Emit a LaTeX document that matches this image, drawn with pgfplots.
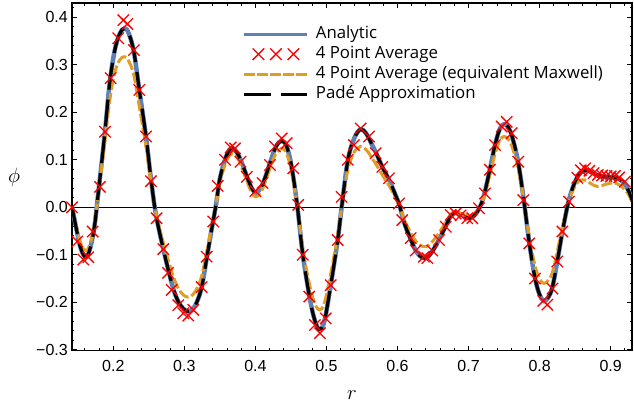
\documentclass[border=0pt]{standalone}
\usepackage{fontspec}
\setmainfont{Open Sans}
\newfontfamily\tickfont{Liberation Sans}
\usepackage{pgfplots}
\pgfplotsset{compat=1.18}
\usepackage{pgfplotstable}

\definecolor{anablue}{HTML}{5E81B5}
\definecolor{maxorange}{HTML}{E19C24}

\pgfplotsset{
  longline legend/.style={legend image code/.code={\draw[##1] (0bp,0bp) -- (63bp,0bp);}},
  threecross legend/.style={legend image code/.code={\draw[##1] plot coordinates {(14bp,0bp) (31.5bp,0bp) (49bp,0bp)};}},
}

% analytic solution (Pade approximation lies on top of it)
\pgfplotstableread{
r phi
0.1420 0.000
0.1480 -0.045
0.1530 -0.080
0.1580 -0.100
0.1615 -0.104
0.1650 -0.098
0.1700 -0.070
0.1740 -0.035
0.1780 0.018
0.1830 0.085
0.1883 0.159
0.1950 0.262
0.2020 0.330
0.2090 0.365
0.2160 0.377
0.2220 0.365
0.2290 0.327
0.2366 0.247
0.2460 0.149
0.2530 0.060
0.2600 -0.015
0.2700 -0.085
0.2780 -0.135
0.2850 -0.174
0.2920 -0.200
0.2990 -0.214
0.3056 -0.219
0.3120 -0.214
0.3180 -0.198
0.3244 -0.168
0.3314 -0.108
0.3380 -0.050
0.3445 0.005
0.3500 0.060
0.3572 0.100
0.3630 0.120
0.3680 0.124
0.3740 0.115
0.3800 0.097
0.3880 0.065
0.3950 0.040
0.4010 0.031
0.4080 0.042
0.4150 0.068
0.4220 0.100
0.4290 0.128
0.4370 0.140
0.4440 0.128
0.4510 0.085
0.4590 0.002
0.4666 -0.098
0.4758 -0.185
0.4830 -0.235
0.4900 -0.257
0.4970 -0.240
0.5060 -0.164
0.5158 -0.069
0.5214 0.000
0.5300 0.098
0.5390 0.145
0.5480 0.164
0.5560 0.155
0.5640 0.132
0.5700 0.114
0.5786 0.085
0.5880 0.058
0.5960 0.030
0.6030 0.003
0.6100 -0.035
0.6185 -0.067
0.6256 -0.091
0.6320 -0.103
0.6396 -0.107
0.6460 -0.099
0.6530 -0.083
0.6600 -0.063
0.6678 -0.040
0.6748 -0.018
0.6818 -0.011
0.6889 -0.015
0.6982 -0.022
0.7060 -0.020
0.7147 -0.003
0.7217 0.025
0.7300 0.080
0.7372 0.131
0.7440 0.165
0.7500 0.175
0.7560 0.168
0.7620 0.145
0.7700 0.093
0.7780 0.012
0.7854 -0.074
0.7934 -0.148
0.8000 -0.184
0.8060 -0.197
0.8120 -0.190
0.8180 -0.168
0.8248 -0.114
0.8320 -0.052
0.8400 0.008
0.8470 0.043
0.8540 0.066
0.8600 0.076
0.8660 0.078
0.8730 0.074
0.8810 0.068
0.8900 0.065
0.9000 0.064
0.9080 0.062
0.9160 0.055
0.9234 0.040
0.9310 0.012
}\analytic

% 4 point average, equivalent Maxwell
\pgfplotstableread{
r phi
0.1420 0.000
0.1480 -0.040
0.1530 -0.070
0.1580 -0.088
0.1615 -0.091
0.1650 -0.086
0.1700 -0.062
0.1740 -0.030
0.1780 0.016
0.1830 0.075
0.1883 0.140
0.1950 0.225
0.2020 0.283
0.2090 0.310
0.2160 0.317
0.2220 0.307
0.2290 0.278
0.2366 0.212
0.2460 0.128
0.2530 0.053
0.2600 -0.012
0.2700 -0.072
0.2780 -0.114
0.2850 -0.148
0.2920 -0.172
0.2990 -0.185
0.3056 -0.189
0.3120 -0.184
0.3180 -0.170
0.3244 -0.145
0.3314 -0.094
0.3380 -0.043
0.3445 0.004
0.3500 0.052
0.3572 0.089
0.3630 0.108
0.3680 0.113
0.3740 0.106
0.3800 0.087
0.3880 0.055
0.3950 0.030
0.4010 0.022
0.4080 0.032
0.4150 0.058
0.4220 0.088
0.4290 0.113
0.4370 0.124
0.4440 0.113
0.4510 0.074
0.4590 0.002
0.4666 -0.085
0.4758 -0.160
0.4830 -0.200
0.4900 -0.216
0.4970 -0.202
0.5060 -0.140
0.5158 -0.058
0.5214 0.000
0.5300 0.078
0.5390 0.116
0.5480 0.128
0.5560 0.121
0.5640 0.104
0.5700 0.090
0.5786 0.068
0.5880 0.046
0.5960 0.024
0.6030 0.002
0.6100 -0.028
0.6185 -0.053
0.6256 -0.071
0.6320 -0.080
0.6396 -0.083
0.6460 -0.077
0.6530 -0.065
0.6600 -0.050
0.6678 -0.032
0.6748 -0.015
0.6818 -0.010
0.6889 -0.013
0.6982 -0.018
0.7060 -0.016
0.7147 -0.002
0.7217 0.022
0.7300 0.068
0.7372 0.112
0.7440 0.141
0.7500 0.149
0.7560 0.143
0.7620 0.124
0.7700 0.080
0.7780 0.012
0.7854 -0.062
0.7934 -0.122
0.8000 -0.151
0.8060 -0.160
0.8120 -0.154
0.8180 -0.137
0.8248 -0.093
0.8320 -0.042
0.8400 0.006
0.8470 0.036
0.8540 0.053
0.8600 0.058
0.8660 0.056
0.8730 0.049
0.8810 0.044
0.8900 0.047
0.9000 0.051
0.9080 0.050
0.9160 0.043
0.9234 0.031
0.9310 0.010
}\maxwell

% 4 point average (samples)
\pgfplotstableread{
r phi
0.1420 0.000
0.1494 -0.072
0.1578 -0.110
0.1648 -0.105
0.1710 -0.051
0.1813 0.043
0.1883 0.159
0.1963 0.272
0.2070 0.356
0.2141 0.394
0.2197 0.386
0.2291 0.331
0.2366 0.247
0.2460 0.149
0.2530 0.055
0.2610 -0.023
0.2704 -0.088
0.2770 -0.138
0.2822 -0.174
0.2915 -0.206
0.2985 -0.223
0.3056 -0.228
0.3126 -0.216
0.3244 -0.168
0.3314 -0.104
0.3407 -0.030
0.3469 0.045
0.3572 0.100
0.3652 0.126
0.3713 0.124
0.3790 0.096
0.3880 0.064
0.4000 0.034
0.4100 0.051
0.4205 0.089
0.4275 0.128
0.4370 0.145
0.4440 0.135
0.4533 0.082
0.4603 0.005
0.4666 -0.100
0.4758 -0.188
0.4838 -0.248
0.4909 -0.265
0.4989 -0.234
0.5060 -0.164
0.5158 -0.069
0.5214 0.022
0.5300 0.100
0.5387 0.131
0.5482 0.166
0.5599 0.149
0.5693 0.114
0.5786 0.085
0.5880 0.061
0.6020 0.008
0.6067 -0.027
0.6185 -0.065
0.6256 -0.091
0.6372 -0.104
0.6420 -0.107
0.6490 -0.091
0.6584 -0.069
0.6678 -0.041
0.6748 -0.016
0.6818 -0.013
0.6889 -0.017
0.6982 -0.023
0.7053 -0.023
0.7147 -0.002
0.7231 0.029
0.7300 0.079
0.7372 0.131
0.7466 0.170
0.7536 0.180
0.7607 0.156
0.7700 0.096
0.7770 0.015
0.7854 -0.076
0.7934 -0.150
0.8051 -0.197
0.8108 -0.205
0.8180 -0.171
0.8248 -0.114
0.8320 -0.051
0.8413 0.012
0.8530 0.062
0.8580 0.078
0.8640 0.082
0.8700 0.077
0.8760 0.072
0.8820 0.068
0.8880 0.067
0.8940 0.066
0.9000 0.065
0.9060 0.066
0.9120 0.063
0.9200 0.054
0.9304 0.015
}\fourpt

\begin{document}
\begin{tikzpicture}
\begin{axis}[name=ax, scale only axis, width=560bp, height=347.7bp,
  xmin=0.1419, xmax=0.9300, ymin=-0.3019, ymax=0.4301,
  axis line style={line width=1.6bp},
  xtick={0.2,0.3,0.4,0.5,0.6,0.7,0.8,0.9},
  xticklabels={0.2,0.3,0.4,0.5,0.6,0.7,0.8,0.9},
  minor xtick={0.16,0.18,0.22,0.24,0.26,0.28,0.32,0.34,0.36,0.38,0.42,0.44,0.46,0.48,
    0.52,0.54,0.56,0.58,0.62,0.64,0.66,0.68,0.72,0.74,0.76,0.78,0.82,0.84,0.86,0.88,0.92},
  ytick={-0.3,-0.2,-0.1,0,0.1,0.2,0.3,0.4},
  yticklabels={−0.3,−0.2,−0.1,0.0,0.1,0.2,0.3,0.4},
  minor ytick={-0.28,-0.26,-0.24,-0.22,-0.18,-0.16,-0.14,-0.12,-0.08,-0.06,-0.04,-0.02,
    0.02,0.04,0.06,0.08,0.12,0.14,0.16,0.18,0.22,0.24,0.26,0.28,0.32,0.34,0.36,0.38,0.42},
  tick align=inside, major tick length=5bp, minor tick length=2.5bp,
  every tick/.append style={black, line width=0.9bp},
  xtick pos=both, ytick pos=both, xticklabel pos=lower, yticklabel pos=left,
  xticklabel style={font=\tickfont\fontsize{16bp}{18bp}\selectfont, anchor=north, inner sep=0pt, yshift=-9.5bp},
  yticklabel style={font=\tickfont\fontsize{16bp}{18bp}\selectfont, anchor=east, inner sep=0pt, xshift=-4bp},
  xlabel={$r$}, ylabel={$\phi$},
  xlabel style={at={(axis description cs:0.5,0)}, anchor=center, yshift=-44bp, font=\fontsize{21bp}{23bp}\selectfont},
  ylabel style={at={(axis description cs:0,0.5)}, anchor=center, rotate=-90, xshift=-58bp, font=\fontsize{21bp}{23bp}\selectfont},
  legend cell align=left,
  legend style={draw=none, fill=none, at={(axis description cs:0,1)}, anchor=north west,
    xshift=170.7bp, yshift=-23.5bp, inner sep=0pt, row sep=5bp, column sep=7bp,
    font=\fontsize{16.8bp}{19bp}\selectfont,
    nodes={inner sep=0pt, text height=11.5bp, text depth=3.5bp}},
]
\addlegendimage{anablue, line width=3bp, longline legend}
\addlegendentry{Analytic}
\addlegendimage{red, only marks, mark=x, mark size=8.2bp, mark options={line width=1.3bp}, threecross legend}
\addlegendentry{4 Point Average}
\addlegendimage{maxorange, line width=2.8bp, dash pattern=on 11bp off 2bp, longline legend}
\addlegendentry{4 Point Average (equivalent Maxwell)}
\addlegendimage{black, line width=3bp, dash pattern=on 27bp off 10bp, longline legend}
\addlegendentry{Padé Approximation}

\addplot[black, line width=0.8bp, forget plot] coordinates {(0.1419,0) (0.9300,0)};
\addplot[anablue, line width=4.5bp, smooth, tension=0.6, forget plot] table[x=r, y=phi] {\analytic};
\addplot[maxorange, line width=3bp, dash pattern=on 11bp off 3bp, smooth, tension=0.6, forget plot] table[x=r, y=phi] {\maxwell};
\addplot[black, line width=3.2bp, dash pattern=on 27bp off 10bp, smooth, tension=0.6, forget plot] table[x=r, y=phi] {\analytic};
\addplot[red, only marks, mark=x, mark size=8bp, mark options={line width=1.3bp}, forget plot] table[x=r, y=phi] {\fourpt};
\end{axis}
\pgfresetboundingbox
\path[use as bounding box] ([xshift=-72bp,yshift=-59.3bp]ax.south west) rectangle ([xshift=2bp,yshift=3bp]ax.north east);
\end{tikzpicture}
\end{document}
